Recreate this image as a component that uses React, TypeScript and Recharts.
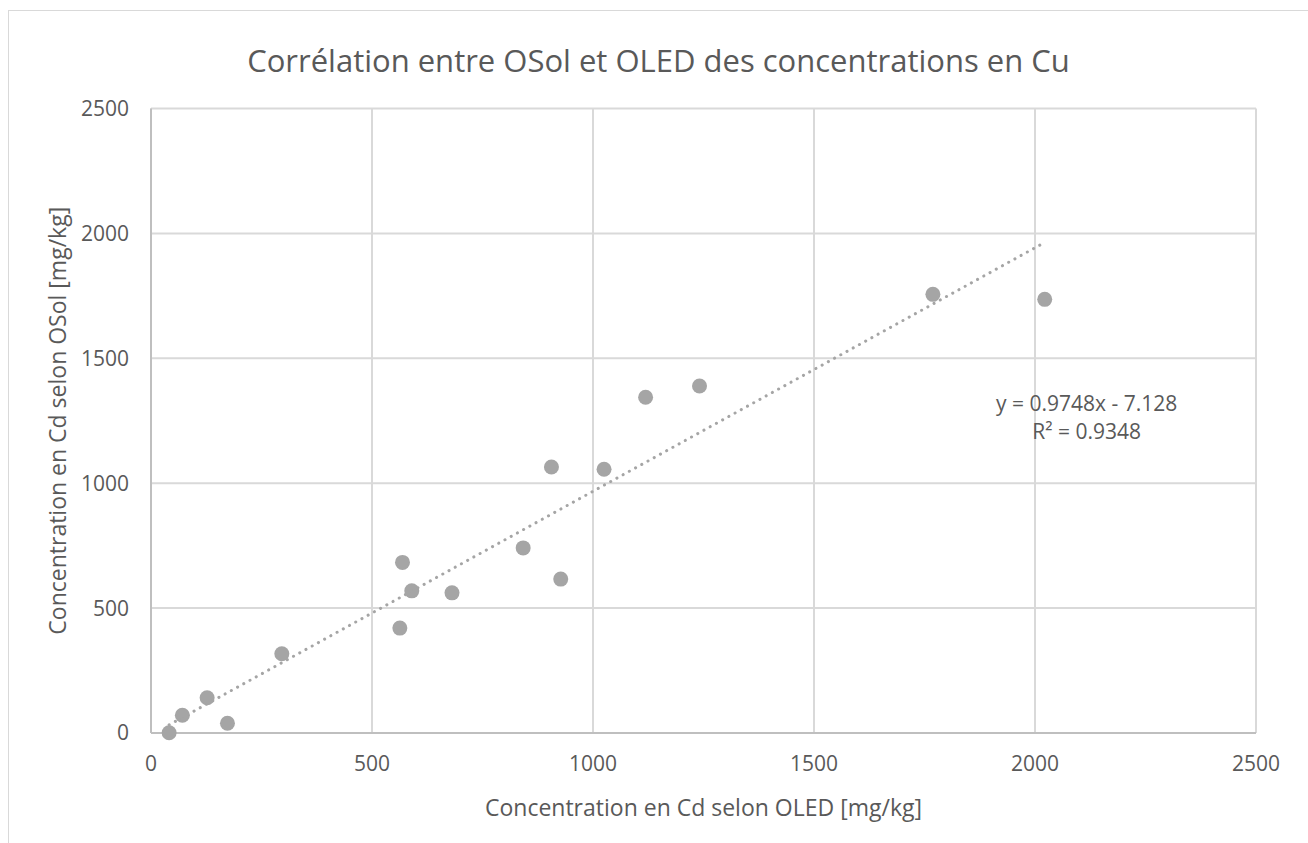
import React from "react";
import {
  ScatterChart,
  Scatter,
  XAxis,
  YAxis,
  CartesianGrid,
  ReferenceDot,
} from "recharts";

// OLED (x) vs OSol (y), mg/kg
const oledValues = [41, 71, 127, 173, 296, 563, 569, 590, 681, 842, 906, 927, 1025, 1119, 1241, 1769, 2022];
const osolValues = [1, 71, 141, 39, 317, 420, 683, 569, 561, 741, 1065, 616, 1056, 1344, 1389, 1756, 1736];

const axisTicks = [0, 500, 1000, 1500, 2000, 2500];

// linear trendline as shown on the chart
const slope = 0.9748;
const intercept = -7.128;
const equationText = "y = 0.9748x - 7.128";
const r2Text = "R² = 0.9348";

const points = oledValues.map((x, i) => ({ x, y: osolValues[i] }));
const xMin = Math.min(...oledValues);
const xMax = Math.max(...oledValues);
const trend = [
  { x: xMin, y: slope * xMin + intercept },
  { x: xMax, y: slope * xMax + intercept },
];

const textColor = "#595959";
const markColor = "#a5a5a5";
const font = "'Open Sans', sans-serif";

const Dot = (props: any) => <circle cx={props.cx} cy={props.cy} r={7.5} fill={markColor} />;

export default function App() {
  return (
    <div
      style={{
        position: "absolute",
        left: 8,
        top: 10,
        width: 1300,
        height: 833,
        boxSizing: "border-box",
        borderTop: "1px solid #d9d9d9",
        borderLeft: "1px solid #d9d9d9",
        background: "#fff",
        fontFamily: font,
      }}
    >
      <div
        style={{
          position: "absolute",
          left: 0,
          top: 30,
          width: 1299,
          textAlign: "center",
          fontSize: 31,
          lineHeight: "38px",
          color: textColor,
        }}
      >
        Corrélation entre OSol et OLED des concentrations en Cu
      </div>
      <ScatterChart
        width={1299}
        height={832}
        margin={{ top: 97.5, right: 52, bottom: 50, left: 0 }}
        style={{ position: "absolute", left: 0, top: 0, fontFamily: font }}
      >
        <CartesianGrid stroke="#d9d9d9" strokeWidth={2} horizontalValues={axisTicks} verticalValues={axisTicks} />
        <XAxis
          type="number"
          dataKey="x"
          domain={[0, 2500]}
          ticks={axisTicks}
          height={60}
          tickLine={false}
          tickSize={6}
          tickMargin={17}
          axisLine={{ stroke: "#bfbfbf", strokeWidth: 2 }}
          tick={{ fill: textColor, fontSize: 21 }}
          label={{
            content: (p: any) => (
              <text
                x={p.viewBox.x + p.viewBox.width / 2}
                y={p.viewBox.y + 77}
                textAnchor="middle"
                dominantBaseline="middle"
                fill={textColor}
                fontSize={23}
              >
                Concentration en Cd selon OLED [mg/kg]
              </text>
            ),
          }}
        />
        <YAxis
          type="number"
          dataKey="y"
          domain={[0, 2500]}
          ticks={axisTicks}
          width={142}
          tickLine={false}
          tickSize={6}
          tickMargin={16}
          axisLine={{ stroke: "#bfbfbf", strokeWidth: 2 }}
          tick={{ fill: textColor, fontSize: 21 }}
          label={{
            content: (p: any) => {
              const cx = 51;
              const cy = p.viewBox.y + p.viewBox.height / 2;
              return (
                <text
                  x={cx}
                  y={cy}
                  transform={`rotate(-90 ${cx} ${cy})`}
                  textAnchor="middle"
                  dominantBaseline="middle"
                  fill={textColor}
                  fontSize={23}
                >
                  Concentration en Cd selon OSol [mg/kg]
                </text>
              );
            },
          }}
        />
        <Scatter data={points} shape={<Dot />} isAnimationActive={false} />
        <Scatter
          data={trend}
          shape={() => null}
          line={{ stroke: markColor, strokeWidth: 3, strokeDasharray: "0.1 7", strokeLinecap: "round" }}
          lineType="joint"
          isAnimationActive={false}
        />
        <ReferenceDot
          x={2117}
          y={1312}
          r={0}
          fill="none"
          stroke="none"
          label={{
            content: (p: any) => {
              const cx = p.viewBox.x + (p.viewBox.width || 0) / 2;
              const cy = p.viewBox.y + (p.viewBox.height || 0) / 2;
              return (
                <g fill={textColor} fontSize={21} textAnchor="middle">
                  <text x={cx} y={cy} dominantBaseline="middle">{equationText}</text>
                  <text x={cx} y={cy + 28} dominantBaseline="middle">{r2Text}</text>
                </g>
              );
            },
          }}
        />
      </ScatterChart>
    </div>
  );
}
